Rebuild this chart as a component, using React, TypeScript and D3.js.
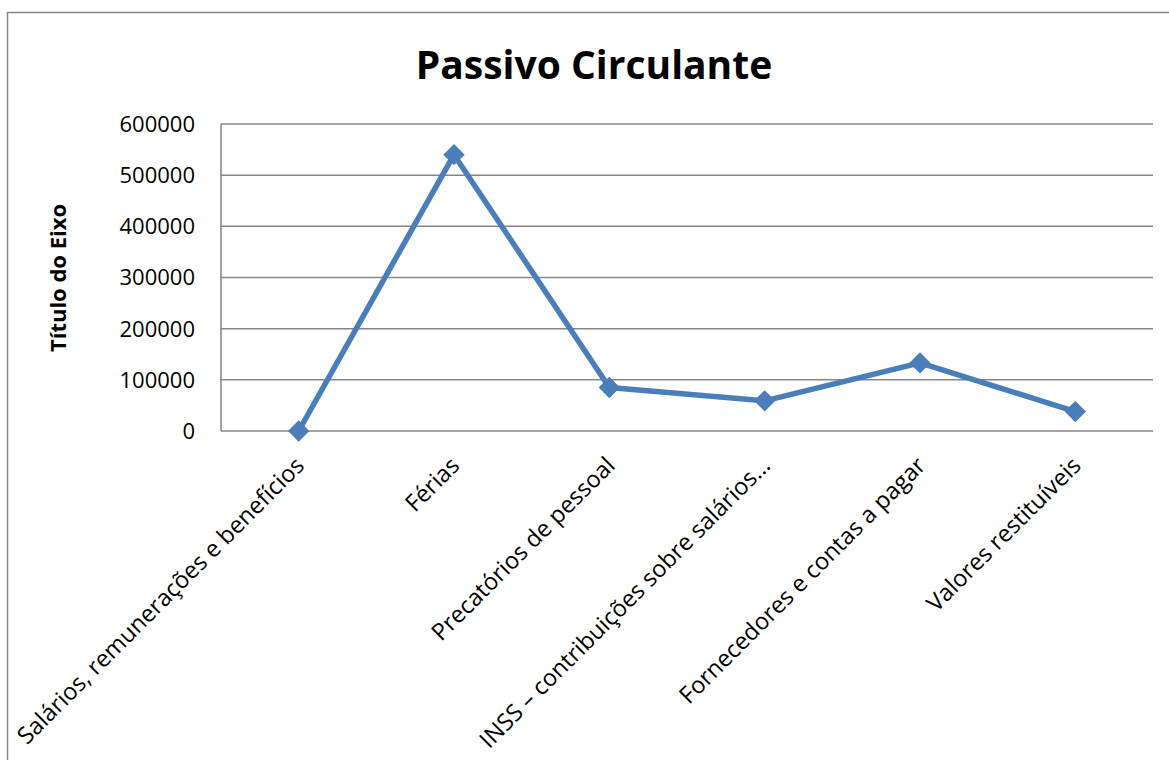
import * as d3 from 'd3';

const categories = [
    'Salários, remunerações e benefícios',
    'Férias',
    'Precatórios de pessoal',
    'INSS – contribuições sobre salários…',
    'Fornecedores e contas a pagar',
    'Valores restituíveis',
];
const values = [0, 540000, 85000, 59000, 133000, 38000];
const yTicks = [0, 100000, 200000, 300000, 400000, 500000, 600000];

const chartTitle = 'Passivo Circulante';
const yTitle = 'Título do Eixo';

const width = 1169;
const height = 760;
const plot = { left: 221, right: 1153, top: 124, bottom: 431 };

const lineColor = '#4A7EBB';
const gridColor = '#868686';
const font = '"Open Sans", "DejaVu Sans", sans-serif';

function App() {
    const xScale = d3.scaleBand().domain(categories).range([plot.left, plot.right]).padding(0);
    const yScale = d3.scaleLinear().domain([0, 600000]).range([plot.bottom, plot.top]);
    const cx = (c: string) => (xScale(c) ?? 0) + xScale.bandwidth() / 2;

    const points = categories.map((c, i) => [cx(c), yScale(values[i])] as [number, number]);
    const line = d3.line()(points) ?? '';

    // diamond marker
    const diamond = d3.symbol().type(d3.symbolDiamond2).size(290)() ?? '';

    return (
        <svg width={width} height={height} style={{ position: 'absolute', left: 0, top: 0, background: '#fff' }}>
            <rect x={7.5} y={12.5} width={1300} height={900} fill="#fff" stroke="#878787" strokeWidth={1.5} />

            <text x={594} y={79} textAnchor="middle" fontFamily={font} fontWeight="bold" fontSize={39}>
                {chartTitle}
            </text>

            {/* grid + y labels */}
            {yTicks.map((t) => (
                <g key={t}>
                    <line x1={plot.left} x2={plot.right} y1={yScale(t)} y2={yScale(t)} stroke={gridColor} strokeWidth={1.5} />
                    <text x={195} y={yScale(t)} dy="0.36em" textAnchor="end" fontFamily={font} fontSize={22} fill="#000">
                        {t}
                    </text>
                </g>
            ))}
            <line x1={plot.left} x2={plot.left} y1={plot.top} y2={plot.bottom} stroke={gridColor} strokeWidth={1.5} />

            <text
                transform={`translate(66, 278) rotate(-90)`}
                textAnchor="middle"
                fontFamily={font}
                fontWeight="bold"
                fontSize={22}
            >
                {yTitle}
            </text>

            {/* x labels */}
            {categories.map((c) => (
                <text
                    key={c}
                    transform={`translate(${cx(c) + 7}, ${plot.bottom + 36}) rotate(-45)`}
                    textAnchor="end"
                    fontFamily={font}
                    fontSize={23.5}
                    fill="#000"
                >
                    {c}
                </text>
            ))}

            <path d={line} fill="none" stroke={lineColor} strokeWidth={5.5} strokeLinejoin="round" />
            {points.map(([x, y], i) => (
                <path key={i} d={diamond} transform={`translate(${x}, ${y})`} fill={lineColor} />
            ))}
        </svg>
    );
}

export default App;
